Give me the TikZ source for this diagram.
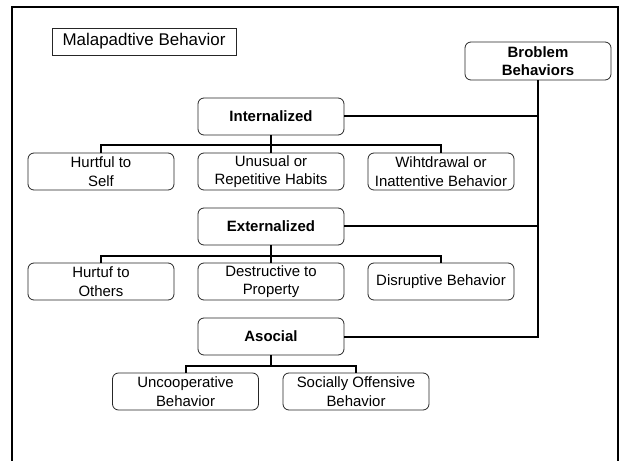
\documentclass[tikz,border=0pt]{standalone}
\usepackage{fontspec}
\setmainfont{Liberation Sans}

\begin{document}
\begin{tikzpicture}[x=1bp,y=-1bp,
    box/.style={draw=black!85,line width=0.8bp,rounded corners=6bp,minimum width=146bp,minimum height=37bp,inner sep=1bp,align=center,font=\fontsize{15}{18.5}\selectfont},
    head/.style={box,font=\fontsize{15}{18.5}\selectfont\bfseries},
    link/.style={line width=2bp}]
    \useasboundingbox (0,0) rectangle (622,461);
    \clip (0,0) rectangle (622,461);
    \draw[line width=2.5bp] (12,7) rectangle (618,480);
    \node[draw=black!85,line width=0.8bp,minimum width=184bp,minimum height=27bp,inner sep=1bp,font=\fontsize{17}{20}\selectfont] (mal) at (144,41.5) {Malapadtive Behavior};
    \node[head,minimum height=38bp] (prob) at (538,61) {Broblem\\Behaviors};
    % internalized
    \node[head] (intl) at (271,116.5) {Internalized};
    \node[box] (hself) at (101,171.5) {Hurtful to\\Self};
    \node[box] (habit) at (271,171.5) {Unusual or\\Repetitive Habits};
    \node[box] (withd) at (441,171.5) {Wihtdrawal or\\Inattentive Behavior};
    % externalized
    \node[head] (extl) at (271,226.5) {Externalized};
    \node[box] (hoth) at (101,281.5) {Hurtuf to\\Others};
    \node[box] (prop) at (271,281.5) {Destructive to\\Property};
    \node[box] (disr) at (441,281.5) {Disruptive Behavior};
    % asocial
    \node[head] (asoc) at (271,336.5) {Asocial};
    \node[box] (uncoop) at (185.5,391.5) {Uncooperative\\Behavior};
    \node[box] (offen) at (356,391.5) {Socially Offensive\\Behavior};
    \coordinate (ibus) at (271,145);
    \coordinate (ebus) at (271,256);
    \coordinate (abus) at (271,366);
    \draw[link] (prob.south) |- (intl.east);
    \draw[link] (prob.south) |- (extl.east);
    \draw[link] (prob.south) |- (asoc.east);
    \draw[link] (intl.south) -- (ibus);
    \draw[link] (hself.north) |- (ibus) -| (withd.north);
    \draw[link] (ibus) -- (habit.north);
    \draw[link] (extl.south) -- (ebus);
    \draw[link] (hoth.north) |- (ebus) -| (disr.north);
    \draw[link] (ebus) -- (prop.north);
    \draw[link] (asoc.south) -- (abus);
    \draw[link] (uncoop.north) |- (abus) -| (offen.north);
\end{tikzpicture}
\end{document}
